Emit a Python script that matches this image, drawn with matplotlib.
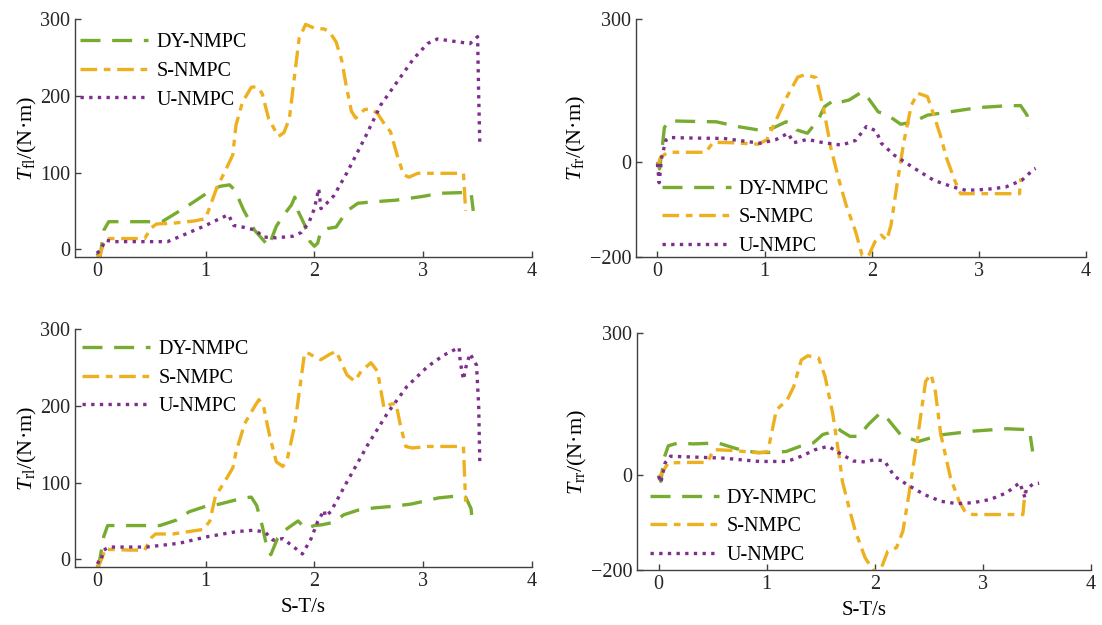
import matplotlib
matplotlib.use("Agg")
import matplotlib.pyplot as plt

plt.rcParams["font.family"] = ["Liberation Serif", "DejaVu Serif"]
plt.rcParams["mathtext.fontset"] = "custom"
plt.rcParams["mathtext.rm"] = "Liberation Serif"
plt.rcParams["mathtext.it"] = "Liberation Serif:italic"
plt.rcParams["font.size"] = 14

labels = ["DY-NMPC", "S-NMPC", "U-NMPC"]
colors = ["#77AC30", "#EDB120", "#7E2F8E"]

# front-left wheel
fl_dy_t = [0.0, 0.03, 0.065, 0.11, 0.3, 0.6, 0.83, 1.0, 1.13, 1.22, 1.27, 1.35, 1.45, 1.58, 1.65, 1.72,
           1.79, 1.82, 1.85, 1.91, 1.96, 2.0, 2.03, 2.06, 2.12, 2.2, 2.3, 2.4, 2.55, 2.75, 3.0, 3.15,
           3.38, 3.44, 3.46]
fl_dy = [-5, -10, 25, 36, 36, 36, 56, 72, 82, 84, 77, 51, 25, 4, 30, 45, 58, 68, 50, 32, 10, 4, 8,
         24, 27, 29, 50, 60, 62, 64, 69, 73, 74, 74, 50]
fl_s_t = [0.0, 0.03, 0.07, 0.1, 0.3, 0.44, 0.5, 0.55, 0.7, 0.9, 1.0, 1.1, 1.19, 1.25, 1.28, 1.34,
          1.42, 1.47, 1.52, 1.58, 1.67, 1.72, 1.77, 1.81, 1.86, 1.92, 2.0, 2.09, 2.14, 2.2, 2.25,
          2.29, 2.34, 2.38, 2.46, 2.52, 2.58, 2.64, 2.7, 2.76, 2.82, 2.87, 2.95, 3.2, 3.37, 3.38, 3.39]
fl_s = [-10, -8, 12, 14, 14, 14, 28, 33, 34, 37, 40, 79, 105, 123, 162, 192, 211, 212, 203, 170,
        147, 152, 170, 217, 275, 293, 288, 287, 283, 270, 247, 215, 180, 171, 182, 183, 177, 164,
        153, 123, 97, 94, 99, 99, 99, 75, 50]
fl_u_t = [0.0, 0.03, 0.08, 0.15, 0.4, 0.65, 0.77, 0.9, 1.0, 1.13, 1.21, 1.26, 1.34, 1.46, 1.53,
          1.65, 1.8, 1.88, 1.95, 2.0, 2.04, 2.06, 2.1, 2.18, 2.3, 2.46, 2.61, 2.76, 2.91, 3.04, 3.13,
          3.28, 3.43, 3.5, 3.51, 3.52]
fl_u = [-5, -2, 12, 10, 10, 10, 17, 25, 31, 40, 45, 31, 29, 25, 16, 15, 17, 22, 35, 53, 79, 53, 58,
        70, 100, 144, 188, 218, 248, 268, 274, 271, 268, 277, 200, 140]

# front-right wheel
fr_dy_t = [0.0, 0.02, 0.04, 0.065, 0.11, 0.3, 0.55, 0.75, 0.94, 1.07, 1.2, 1.25, 1.3, 1.4, 1.5,
           1.56, 1.66, 1.72, 1.79, 1.91, 1.97, 2.06, 2.15, 2.27, 2.38, 2.52, 2.76, 3.0, 3.28, 3.39,
           3.45, 3.46]
fr_dy = [0, -15, 20, 72, 86, 85, 84, 74, 67, 70, 84, 80, 67, 60, 88, 116, 131, 126, 130, 147, 133,
         105, 98, 79, 83, 98, 106, 114, 118, 118, 98, 70]
fr_s_t = [0.0, 0.03, 0.1, 0.3, 0.45, 0.52, 0.7, 0.94, 1.02, 1.1, 1.2, 1.31, 1.38, 1.48, 1.55,
          1.62, 1.69, 1.76, 1.85, 1.91, 1.97, 2.03, 2.09, 2.14, 2.18, 2.24, 2.3, 2.37, 2.43, 2.52,
          2.58, 2.64, 2.7, 2.78, 2.83, 2.94, 3.2, 3.38, 3.39]
fr_s = [-10, 10, 20, 20, 20, 41, 40, 37, 46, 84, 133, 178, 183, 177, 112, 28, -35, -90, -147,
        -196, -198, -168, -154, -165, -133, -42, 42, 119, 144, 137, 98, 56, 7, -42, -67, -67, -67,
        -67, -35]
fr_u_t = [0.0, 0.016, 0.04, 0.08, 0.11, 0.3, 0.62, 0.96, 1.1, 1.22, 1.27, 1.4, 1.53, 1.72, 1.85,
          1.95, 2.04, 2.09, 2.21, 2.4, 2.58, 2.76, 2.88, 3.07, 3.25, 3.4, 3.51, 3.53]
fr_u = [-4, -44, 10, 46, 51, 50, 49, 39, 46, 60, 40, 47, 41, 35, 45, 74, 65, 39, 14, -14, -39,
        -53, -60, -58, -53, -39, -16, -14]

# rear-left wheel
rl_dy_t = [0.0, 0.016, 0.065, 0.1, 0.3, 0.58, 0.73, 0.85, 1.0, 1.13, 1.35, 1.42, 1.47, 1.52, 1.57,
           1.6, 1.66, 1.73, 1.8, 1.85, 1.92, 2.0, 2.07, 2.17, 2.27, 2.4, 2.55, 2.72, 2.89, 3.05,
           3.14, 3.28, 3.39, 3.44, 3.45]
rl_dy = [-8, -10, 30, 44, 44, 44, 51, 62, 69, 72, 80, 81, 70, 44, 12, 6, 27, 38, 45, 50, 40, 44,
         45, 48, 58, 64, 67, 69, 72, 77, 80, 82, 81, 66, 51]
rl_s_t = [0.0, 0.03, 0.08, 0.1, 0.3, 0.44, 0.5, 0.54, 0.7, 0.98, 1.04, 1.09, 1.17, 1.25, 1.28,
          1.36, 1.45, 1.49, 1.53, 1.59, 1.65, 1.71, 1.75, 1.82, 1.91, 1.95, 2.0, 2.06, 2.14, 2.2,
          2.3, 2.37, 2.43, 2.52, 2.58, 2.64, 2.7, 2.75, 2.79, 2.84, 2.9, 3.04, 3.37, 3.38, 3.39]
rl_s = [-10, -5, 14, 13, 12, 12, 28, 33, 33, 39, 50, 82, 100, 119, 140, 177, 199, 208, 201, 160,
        127, 121, 130, 175, 269, 268, 264, 260, 267, 271, 240, 232, 245, 256, 245, 197, 202, 203,
        175, 147, 145, 147, 147, 110, 75]
rl_u_t = [0.0, 0.03, 0.065, 0.11, 0.46, 0.76, 1.0, 1.28, 1.45, 1.55, 1.62, 1.71, 1.82, 1.89, 1.97,
          2.03, 2.09, 2.1, 2.15, 2.3, 2.49, 2.67, 2.85, 3.04, 3.19, 3.33, 3.34, 3.37, 3.39, 3.43,
          3.49, 3.51, 3.52]
rl_u = [-3, -5, 12, 16, 16, 21, 29, 36, 38, 35, 25, 27, 15, 7, 27, 49, 64, 56, 62, 101, 149, 190,
        225, 251, 266, 276, 258, 234, 249, 268, 253, 200, 127]

# rear-right wheel
rr_dy_t = [0.0, 0.02, 0.05, 0.09, 0.18, 0.32, 0.55, 0.69, 0.8, 0.92, 1.05, 1.18, 1.31, 1.43, 1.52,
           1.57, 1.65, 1.69, 1.77, 1.85, 1.94, 2.05, 2.1, 2.24, 2.4, 2.61, 2.91, 3.22, 3.43, 3.46]
rr_dy = [0, -13, 36, 62, 68, 66, 68, 58, 51, 48, 48, 50, 61, 68, 86, 89, 100, 93, 82, 82, 107, 131,
         124, 85, 71, 85, 93, 98, 96, 50]
rr_s_t = [0.0, 0.03, 0.09, 0.3, 0.45, 0.51, 0.7, 0.93, 1.01, 1.09, 1.19, 1.25, 1.32, 1.38, 1.48,
          1.54, 1.61, 1.67, 1.7, 1.77, 1.82, 1.91, 1.98, 2.03, 2.07, 2.12, 2.2, 2.26, 2.32, 2.4,
          2.47, 2.52, 2.56, 2.61, 2.7, 2.78, 2.84, 2.91, 3.2, 3.37, 3.39]
rr_s = [-6, 5, 26, 27, 27, 54, 52, 47, 50, 138, 159, 187, 243, 252, 247, 208, 131, 40, -13, -76,
        -118, -174, -199, -205, -190, -160, -153, -118, -34, 86, 198, 213, 177, 86, -5, -55, -79,
        -83, -83, -83, -34]
rr_u_t = [0.0, 0.02, 0.06, 0.11, 0.6, 0.93, 1.19, 1.32, 1.45, 1.57, 1.67, 1.8, 1.91, 2.0, 2.09,
          2.18, 2.3, 2.46, 2.61, 2.76, 2.91, 3.07, 3.22, 3.34, 3.37, 3.39, 3.4, 3.46, 3.52]
rr_u = [-2, -16, 26, 40, 36, 29, 29, 40, 54, 61, 47, 30, 28, 33, 30, -2, -20, -41, -55, -60, -58,
        -51, -37, -16, -34, -48, -31, -19, -17]

panels = [
    ("fl", [(fl_dy_t, fl_dy), (fl_s_t, fl_s), (fl_u_t, fl_u)]),
    ("fr", [(fr_dy_t, fr_dy), (fr_s_t, fr_s), (fr_u_t, fr_u)]),
    ("rl", [(rl_dy_t, rl_dy), (rl_s_t, rl_s), (rl_u_t, rl_u)]),
    ("rr", [(rr_dy_t, rr_dy), (rr_s_t, rr_s), (rr_u_t, rr_u)]),
]

W, H = 1102, 625
# axes boxes in pixels: left, top, right, bottom
boxes = [(75, 19, 532, 257), (636, 19, 1086, 257), (75, 329, 532, 567), (637, 333, 1091, 570)]
ylims = [(-10, 300), (-200, 300), (-10, 300), (-200, 300)]
yticks = [[0, 100, 200, 300], [-200, 0, 300], [0, 100, 200, 300], [-200, 0, 300]]
leg_loc = ["upper left", "lower left", "upper left", "lower left"]
leg_anchor = [(0.011, 0.94), (0.058, 0.004), (0.015, 0.953), (0.029, 0.022)]

dashes = [(6, 3.5), (5, 2, 2, 2), (1, 1.6)]

fig = plt.figure(figsize=(W / 100, H / 100), dpi=100)
for i, (sub, series) in enumerate(panels):
    l, t, r, b = boxes[i]
    ax = fig.add_axes([l / W, 1 - b / H, (r - l) / W, (b - t) / H])
    for (x, y), lab, c, d in zip(series, labels, colors, dashes):
        ax.plot(x, y, color=c, lw=2.4, dashes=d, label=lab)
    ax.set_xlim(-0.2, 4)
    ax.set_ylim(*ylims[i])
    ax.set_xticks([0, 1, 2, 3, 4])
    ax.set_yticks(yticks[i])
    for s in ["top", "right"]:
        ax.spines[s].set_visible(False)
    for s in ["left", "bottom"]:
        ax.spines[s].set_color("#404040")
        ax.spines[s].set_linewidth(1.0)
    ax.tick_params(direction="in", length=4, width=1, color="#404040", labelsize=14.5,
                   labelcolor="#262626")
    ax.set_ylabel(r"$T_{\mathrm{%s}}$/(N·m)" % sub, fontsize=16, labelpad=1)
    if i >= 2:
        ax.set_xlabel("S-T/s", fontsize=15, labelpad=5)
    ax.legend(loc=leg_loc[i], bbox_to_anchor=leg_anchor[i], frameon=False, fontsize=14.5,
              handlelength=3.4, handletextpad=0.4, labelspacing=0.47, borderpad=0,
              borderaxespad=0)

fig.savefig("out.png", dpi=100)
